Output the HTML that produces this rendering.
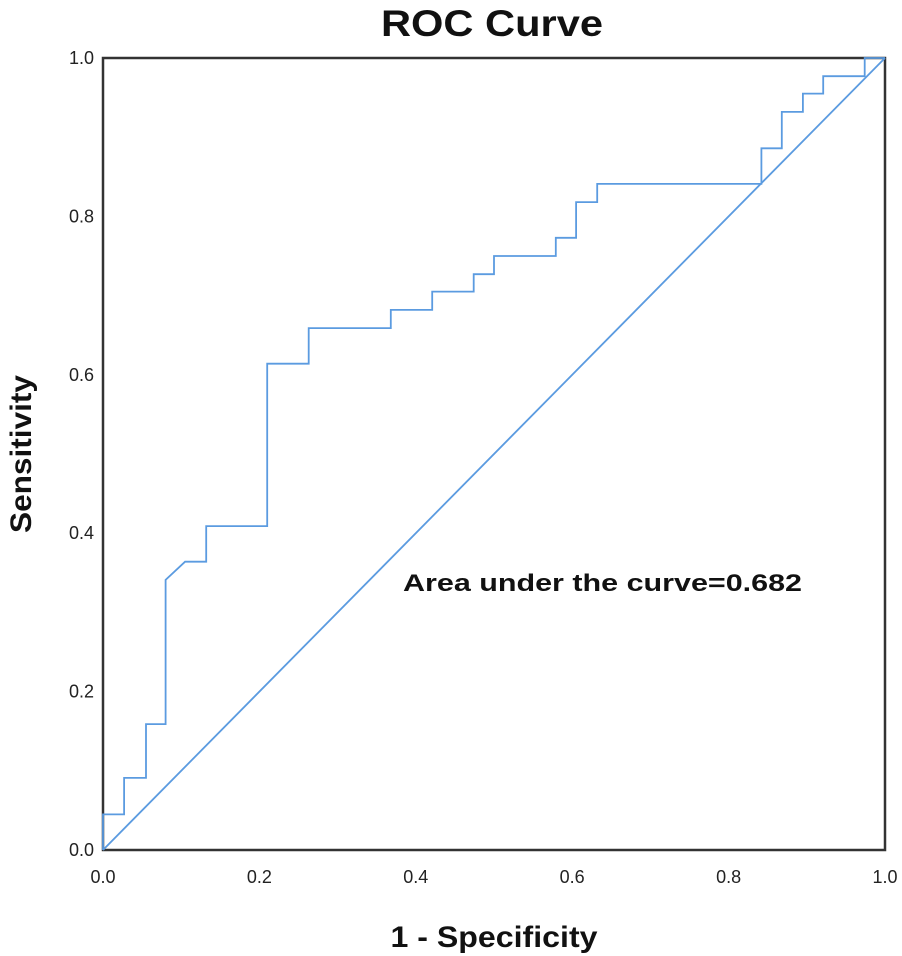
<!DOCTYPE html>
<html><head><meta charset="utf-8"><style>
html,body{margin:0;padding:0;background:#fff;}
svg{display:block;font-family:"Liberation Sans",Arial,sans-serif;}
</style></head><body>
<svg id="chart" width="902" height="956" viewBox="0 0 902 956" xmlns="http://www.w3.org/2000/svg">
<text x="492" y="36" text-anchor="middle" font-size="37" font-weight="bold" fill="#111" textLength="222" lengthAdjust="spacingAndGlyphs">ROC Curve</text>
<g id="axes"></g>
<g id="marks"></g>
<text x="403" y="591" font-size="24" font-weight="bold" fill="#111" textLength="399" lengthAdjust="spacingAndGlyphs">Area under the curve=0.682</text>
<text x="494" y="947" text-anchor="middle" font-size="30" font-weight="bold" fill="#111" textLength="207" lengthAdjust="spacingAndGlyphs">1 - Specificity</text>
<text transform="translate(31,454) rotate(-90)" text-anchor="middle" font-size="30" font-weight="bold" fill="#111" textLength="158" lengthAdjust="spacingAndGlyphs">Sensitivity</text>
</svg>
<script>
const fprValues = [0,0,0.027,0.027,0.055,0.055,0.08,0.08,0.105,0.132,0.132,0.21,0.21,0.263,0.263,0.368,0.368,0.421,0.421,0.474,0.474,0.5,0.5,0.579,0.579,0.605,0.605,0.632,0.632,0.842,0.842,0.868,0.868,0.895,0.895,0.921,0.921,0.974,0.974,1];
const tprValues = [0,0.045,0.045,0.091,0.091,0.159,0.159,0.341,0.364,0.364,0.409,0.409,0.614,0.614,0.659,0.659,0.682,0.682,0.705,0.705,0.727,0.727,0.75,0.75,0.773,0.773,0.818,0.818,0.841,0.841,0.886,0.886,0.932,0.932,0.955,0.955,0.977,0.977,1,1];
const refLine = [0,1];
const tickValues = [0,0.2,0.4,0.6,0.8,1.0];
const tickLabels = ["0.0","0.2","0.4","0.6","0.8","1.0"];

const L=103,R=885,T=58,B=850;
const xs=v=>L+v*(R-L);
const ys=v=>B-v*(B-T);
const NS="http://www.w3.org/2000/svg";
const axes=document.getElementById('axes');
const marks=document.getElementById('marks');
function mk(tag,attrs,parent){const e=document.createElementNS(NS,tag);for(const k in attrs)e.setAttribute(k,attrs[k]);parent.appendChild(e);return e;}

const frame=mk('rect',{x:L,y:T,width:R-L,height:B-T,fill:'none',stroke:'#333','stroke-width':2.5},axes);


tickValues.forEach((v,i)=>{
  const tx=mk('text',{x:xs(v),y:883,'text-anchor':'middle','font-size':18,fill:'#222'},axes);
  tx.textContent=tickLabels[i];
  
  
  const ty=mk('text',{x:94,y:ys(v)+6,'text-anchor':'end','font-size':18,fill:'#222'},axes);
  ty.textContent=tickLabels[i];
  
  
});
const diag=mk('line',{x1:xs(refLine[0]),y1:ys(refLine[0]),x2:xs(refLine[1]),y2:ys(refLine[1]),stroke:'#5b9be0','stroke-width':1.8},marks);


const pts=fprValues.map((f,i)=>xs(f).toFixed(1)+','+ys(tprValues[i]).toFixed(1)).join(' ');
const curve=mk('polyline',{points:pts,fill:'none',stroke:'#5b9be0','stroke-width':1.8},marks);


</script>
</body></html>
